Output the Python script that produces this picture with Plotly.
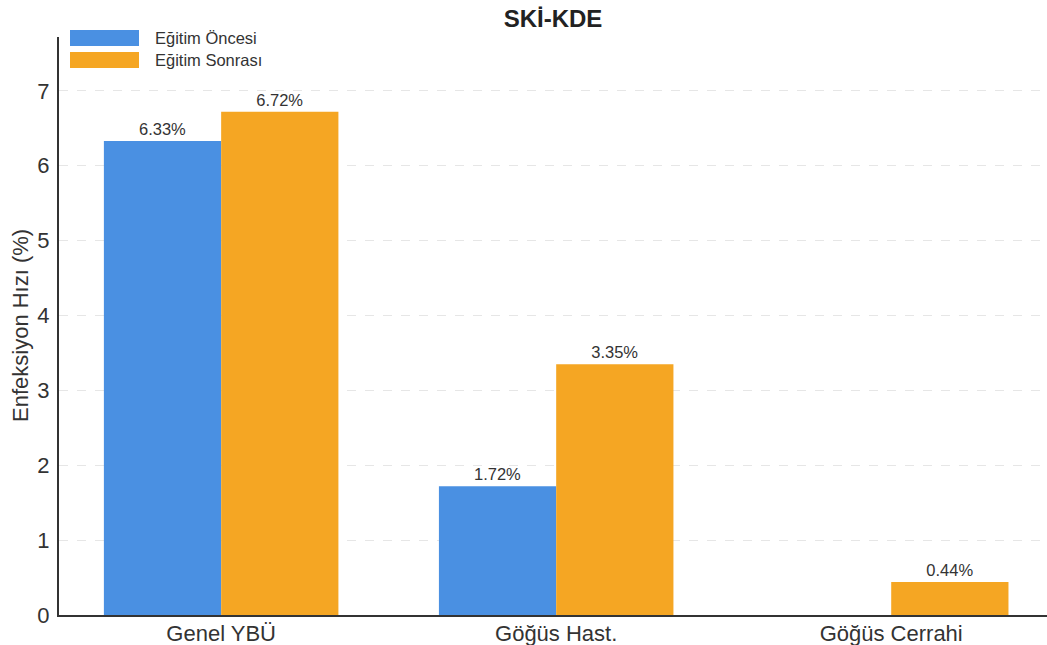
import plotly.graph_objects as go

categories = ["Genel YBÜ", "Göğüs Hast.", "Göğüs Cerrahi"]
before = [6.33, 1.72, 0.0]
after = [6.72, 3.35, 0.44]
series_names = ["Eğitim Öncesi", "Eğitim Sonrası"]
colors = ["#4A90E2", "#F5A623"]

W, H = 1047, 645
L, R, T, B = 59, 0, 37, 30
FONT = "Liberation Sans, Arial, sans-serif"

x = list(range(len(categories)))


def labels(vals):
    return [f"{v:.2f}%" if v > 0 else "" for v in vals]


fig = go.Figure()
for name, vals, col in zip(series_names, [before, after], colors):
    fig.add_trace(go.Bar(
        x=x, y=vals, name=name, marker=dict(color=col, line=dict(width=0)),
        text=labels(vals), textposition="outside", cliponaxis=False,
        textfont=dict(family=FONT, size=16.5, color="#333333"),
        showlegend=False,
    ))

fig.update_layout(
    width=W, height=H,
    margin=dict(l=L, r=R, t=T, b=B, autoexpand=False),
    paper_bgcolor="white", plot_bgcolor="white",
    barmode="group", bargap=0.3, bargroupgap=0,
    font=dict(family=FONT, color="#333333"),
    title=dict(text="<b>SKİ-KDE</b>", x=(L + (W - L) / 2) / W, xanchor="center",
               y=1 - 19 / H, yanchor="middle",
               font=dict(size=24, color="#222222", family=FONT)),
)

fig.update_xaxes(
    range=[-0.484, 2.465], tickvals=x, ticktext=categories,
    showgrid=False, zeroline=False, showline=True, linecolor="#333333",
    linewidth=2, ticks="", tickfont=dict(size=22, color="#333333"),
    ticklabelstandoff=-2, automargin=False,
)
fig.update_yaxes(
    range=[0, 7.72], tickvals=list(range(8)), showgrid=True,
    gridcolor="#e6e6e6", griddash="dash", gridwidth=1, zeroline=False,
    showline=True, linecolor="#333333", linewidth=2, ticks="",
    tickfont=dict(size=22, color="#333333"), ticklabelstandoff=3,
    automargin=False,
)

# axis title
fig.add_annotation(
    text="Enfeksiyon Hızı (%)", textangle=-90, xref="paper", yref="paper",
    x=(20 - L) / (W - L - R), y=0.5, xanchor="center", yanchor="middle",
    showarrow=False, font=dict(size=22, color="#333333", family=FONT),
)

# legend: coloured patches with names, upper left of the plot
pw = W - L - R
ph = H - T - B
for i, (name, col) in enumerate(zip(series_names, colors)):
    y0 = 30 + i * 22
    fig.add_shape(
        type="rect", xref="paper", yref="paper",
        x0=(70 - L) / pw, x1=(139 - L) / pw,
        y0=1 - (y0 + 16 - T) / ph, y1=1 - (y0 - T) / ph,
        fillcolor=col, line=dict(width=0), layer="above",
    )
    fig.add_annotation(
        text=name, xref="paper", yref="paper",
        x=(153 - L) / pw, y=1 - (y0 + 8 - T) / ph,
        xanchor="left", yanchor="middle", showarrow=False,
        font=dict(size=16.5, color="#333333", family=FONT),
    )

fig.write_html("out.html")
